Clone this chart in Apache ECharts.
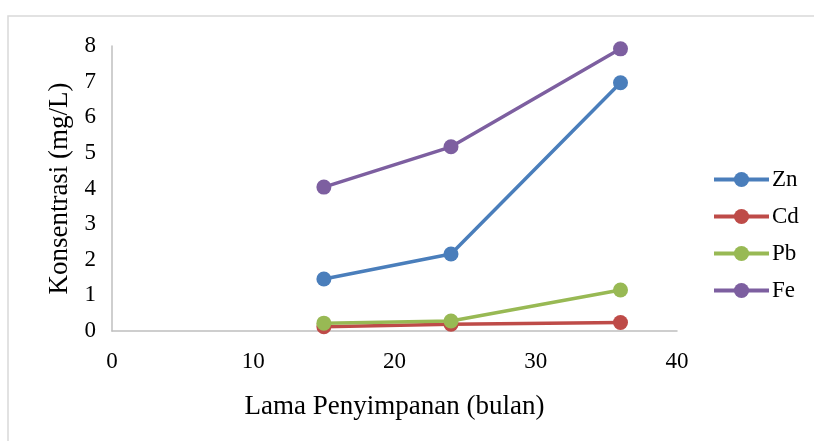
<!DOCTYPE html>
<html>
<head>
<meta charset="utf-8">
<script src="https://cdn.jsdelivr.net/npm/echarts@6/dist/echarts.min.js"></script>
<style>html,body{margin:0;padding:0;background:#fff}#c{width:814px;height:441px}</style>
</head>
<body>
<div id="c"></div>
<script>
const months = [15, 24, 36];
const zn = [1.46, 2.16, 6.97];
const cd = [0.12, 0.19, 0.24];
const pb = [0.22, 0.28, 1.15];
const fe = [4.04, 5.17, 7.92];
const seriesNames = ['Zn', 'Cd', 'Pb', 'Fe'];
const colors = ['#4A7EBB', '#BE4B48', '#98B954', '#7D5FA0'];
const xTicks = [0, 10, 20, 30, 40];
const yTicks = [0, 1, 2, 3, 4, 5, 6, 7, 8];

const values = [zn, cd, pb, fe];
const font = 'Liberation Serif';
const chart = echarts.init(document.getElementById('c'));
chart.setOption({
  animation: false,
  backgroundColor: '#fff',
  graphic: [{
    type: 'rect', shape: {x: 8, y: 16, width: 830, height: 450},
    style: {fill: 'none', stroke: '#d9d9d9', lineWidth: 1.5}, silent: true, z: -10
  }],
  grid: {left: 112, right: 137, top: 46, bottom: 110},
  legend: {
    orient: 'vertical', left: 707, top: 163,
    itemWidth: 55, itemHeight: 19, itemGap: 14,
    lineStyle: {width: 4},
    textStyle: {fontFamily: font, fontSize: 23, color: '#000', padding: [0,0,0,-2]},
    data: seriesNames
  },
  xAxis: {
    type: 'value', min: xTicks[0], max: xTicks[xTicks.length-1], interval: 10,
    name: 'Lama Penyimpanan (bulan)', nameLocation: 'middle', nameGap: 62,
    nameTextStyle: {fontFamily: font, fontSize: 27, color: '#000'},
    axisLine: {show: true, lineStyle: {color: '#bfbfbf', width: 1.5}},
    axisTick: {show: false}, splitLine: {show: false},
    axisLabel: {fontFamily: font, fontSize: 23, color: '#000', margin: 19}
  },
  yAxis: {
    type: 'value', min: yTicks[0], max: yTicks[yTicks.length-1], interval: 1,
    name: 'Konsentrasi (mg/L)', nameLocation: 'middle', nameGap: 38,
    nameTextStyle: {fontFamily: font, fontSize: 27, color: '#000'},
    axisLine: {show: true, lineStyle: {color: '#bfbfbf', width: 1.5}},
    axisTick: {show: false}, splitLine: {show: false},
    axisLabel: {fontFamily: font, fontSize: 23, color: '#000', margin: 16}
  },
  series: seriesNames.map((n, i) => ({
    name: n, type: 'line',
    data: months.map((m, j) => [m, values[i][j]]),
    symbol: 'circle', symbolSize: 15,
    itemStyle: {color: colors[i]},
    lineStyle: {color: colors[i], width: 3.5}
  }))
});
</script>
</body>
</html>
